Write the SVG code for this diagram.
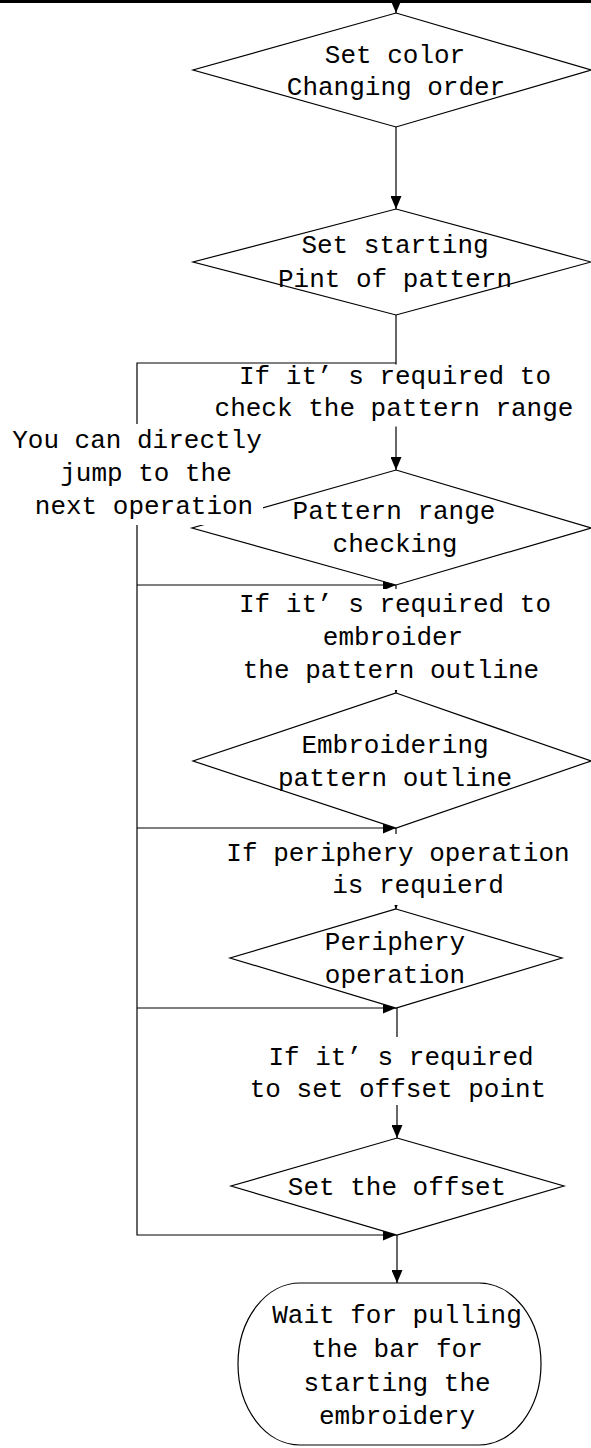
<svg xmlns="http://www.w3.org/2000/svg" width="591" height="1448" viewBox="0 0 591 1448">
<defs>
<style>
.n{fill:#fff;stroke:#000;stroke-width:1.2}
.c{fill:none;stroke:#000;stroke-width:1.2}
.t{font-family:"Liberation Mono","DejaVu Sans Mono",monospace;font-size:26px;fill:#000;text-anchor:middle}
.bg{fill:#fff;stroke:none}
</style>
<marker id="arr" markerUnits="userSpaceOnUse" viewBox="0 0 13 11" refX="13" refY="5.5" markerWidth="13" markerHeight="11" orient="auto">
<path d="M0,0 L13,5.5 L0,11 z" fill="#000"/>
</marker>
</defs>
<rect x="0" y="0" width="591" height="3" fill="#000"/>
<g id="connectors">
<path class="c" d="M396,0 L396,13" marker-end="url(#arr)"/>
<path class="c" d="M396,127 L396,209" marker-end="url(#arr)"/>
<path class="c" d="M396,315 L396,470" marker-end="url(#arr)"/>
<path class="c" d="M396,363 L137,363 L137,1235 L396,1235" marker-end="url(#arr)"/>
<path class="c" d="M137,585 L396,585" marker-end="url(#arr)"/>
<path class="c" d="M396,585 L396,693" marker-end="url(#arr)"/>
<path class="c" d="M137,828 L396,828" marker-end="url(#arr)"/>
<path class="c" d="M396,828 L396,909" marker-end="url(#arr)"/>
<path class="c" d="M137,1008 L396,1008" marker-end="url(#arr)"/>
<path class="c" d="M397,1008 L397,1138" marker-end="url(#arr)"/>
<path class="c" d="M397,1235 L397,1283" marker-end="url(#arr)"/>
</g>
<g id="n1">
<polygon class="n" points="396,13 591,70 396,127 193,70"/>
<text class="t" x="395" y="63">Set color</text>
<text class="t" x="396" y="95">Changing order</text>
</g>
<g id="n2">
<polygon class="n" points="396,209 591,262 396,315 193,262"/>
<text class="t" x="395" y="253">Set starting</text>
<text class="t" x="395" y="287">Pint of pattern</text>
</g>
<g id="n3">
<polygon class="n" points="396,470 591,528 396,585 192,528"/>
<text class="t" x="394" y="519">Pattern range</text>
<text class="t" x="395" y="552">checking</text>
</g>
<g id="n4">
<polygon class="n" points="396,693 591,761 396,828 193,761"/>
<text class="t" x="395" y="753">Embroidering</text>
<text class="t" x="395" y="786">pattern outline</text>
</g>
<g id="n5">
<polygon class="n" points="396,909 562,958 396,1008 230,958"/>
<text class="t" x="395" y="950">Periphery</text>
<text class="t" x="395" y="983">operation</text>
</g>
<g id="n6">
<polygon class="n" points="397,1138 564,1186 397,1235 231,1186"/>
<text class="t" x="397" y="1195">Set the offset</text>
</g>
<g id="n7">
<rect class="n" x="238" y="1283" width="303" height="162" rx="62" ry="81"/>
<text class="t" x="397" y="1323">Wait for pulling</text>
<text class="t" x="397" y="1357">the bar for</text>
<text class="t" x="397" y="1391">starting the</text>
<text class="t" x="397" y="1424">embroidery</text>
</g>
<g id="l1">
<rect class="bg" x="212" y="364.5" width="370" height="62"/>
<text class="t" x="395" y="384">If it’ s required to</text>
<text class="t" x="394" y="416">check the pattern range</text>
</g>
<g id="l0">
<rect class="bg" x="8" y="424" width="255" height="101"/>
<text class="t" x="137" y="448">You can directly</text>
<text class="t" x="146" y="481">jump to the</text>
<text class="t" x="144" y="514">next operation</text>
</g>
<g id="l2">
<rect class="bg" x="230" y="589" width="335" height="101"/>
<text class="t" x="395" y="612">If it’ s required to</text>
<text class="t" x="393" y="645">embroider</text>
<text class="t" x="391" y="678">the pattern outline</text>
</g>
<g id="l3">
<rect class="bg" x="225" y="834" width="350" height="71"/>
<text class="t" x="398" y="861">If periphery operation</text>
<text class="t" x="418" y="893">is requierd</text>
</g>
<g id="l4">
<rect class="bg" x="245" y="1037" width="310" height="68"/>
<text class="t" x="401" y="1065">If it’ s required</text>
<text class="t" x="398" y="1097">to set offset point</text>
</g>
</svg>
